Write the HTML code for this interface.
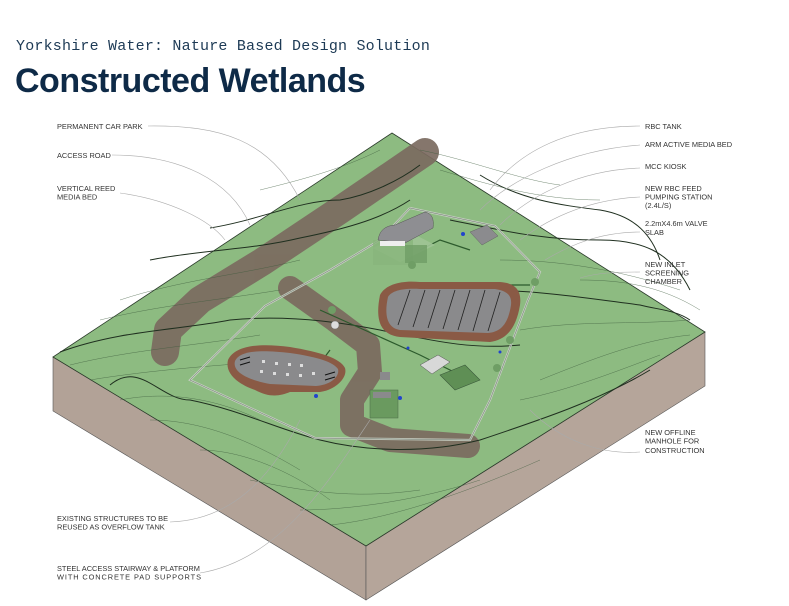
<!DOCTYPE html>
<html><head><meta charset="utf-8"><style>
html,body{margin:0;padding:0;background:#fff;}
body{width:789px;height:606px;overflow:hidden;position:relative;}
.t1{position:absolute;left:16px;top:38px;font:15px "Liberation Mono",monospace;color:#1d3a55;letter-spacing:0.2px;white-space:nowrap;}
.t2{position:absolute;left:15px;top:62px;font:bold 34px "Liberation Sans",sans-serif;color:#0e2a47;letter-spacing:-0.5px;white-space:nowrap;}
svg{position:absolute;left:0;top:0;}
svg text{font-family:"Liberation Sans",sans-serif;font-size:7.4px;fill:#333;}
</style></head><body>
<div class="t1">Yorkshire Water: Nature Based Design Solution</div>
<div class="t2">Constructed Wetlands</div>
<svg width="789" height="606" viewBox="0 0 789 606">
<polygon points="53,357 366,546 366,600 53,411" fill="#b2a297" stroke="#555" stroke-width="0.6"/>
<polygon points="366,546 705,332 705,386 366,600" fill="#b5a59a" stroke="#555" stroke-width="0.6"/>
<polygon points="392,133 705,332 366,546 53,357" fill="#8dbb81" stroke="#2a3a2a" stroke-width="0.8"/>
<!-- roads -->
<g fill="none" stroke="#7b6a5f" stroke-linecap="round" stroke-linejoin="round" opacity="0.92">
<path d="M425,152 L340,210 L262,262 L200,300 L168,330 L165,352" stroke-width="28"/>
<path d="M290,288 L335,320 L368,345 L370,372 L352,400 L352,425 L390,440 L468,446" stroke-width="24"/>
</g>
<g fill="none" stroke="#1f2f1f" stroke-width="1">
<path d="M60,352 C120,330 180,330 230,320 C280,315 330,320 380,330 C430,340 470,350 520,345"/>
<path d="M150,260 C200,250 250,250 300,238 C340,230 380,220 410,200"/>
<path d="M210,228 C260,220 300,200 340,200 C370,195 400,180 420,165"/>
<path d="M450,220 C500,230 540,240 600,240 C640,240 670,250 690,290"/>
<path d="M480,290 C540,290 600,300 640,305 C660,310 675,310 690,320"/>
<path d="M110,385 C140,360 160,400 190,400 C240,410 280,430 320,440 C360,450 420,455 480,440 C540,420 600,400 650,370"/>
<path d="M480,175 C520,200 560,205 600,210 C630,215 650,230 660,260"/>
</g>
<g fill="none" stroke="#3b5a3b" stroke-width="0.5" opacity="0.7">
<path d="M70,365 C130,350 200,345 260,335"/><path d="M90,380 C150,370 220,365 290,360"/>
<path d="M120,400 C170,390 220,400 260,420"/><path d="M150,420 C200,420 250,440 300,470"/>
<path d="M200,450 C240,450 290,470 330,500"/><path d="M250,480 C300,490 350,500 420,490"/>
<path d="M300,510 C350,510 420,500 480,480"/><path d="M330,525 C380,520 450,500 540,460"/>
<path d="M520,400 C570,390 620,370 660,355"/><path d="M540,380 C590,360 640,340 690,335"/>
<path d="M500,260 C560,260 620,270 680,290"/><path d="M420,150 C470,160 520,180 560,185"/>
<path d="M440,170 C490,185 540,200 600,200"/><path d="M120,300 C180,280 240,275 300,260"/>
<path d="M100,320 C160,305 220,300 280,290"/><path d="M260,190 C300,180 340,170 380,150"/>
<path d="M520,330 C580,320 630,325 690,320"/><path d="M580,280 C620,280 660,285 700,310"/>
</g>
<g fill="none" stroke="#c8cfc4" stroke-width="2.2" opacity="0.9">
<path d="M410,208 L495,226 L540,272 L528,300 L490,400 L470,440 L315,438 L190,380 L200,370 L265,306 L330,270 L380,240 L410,208"/>
</g>
<g fill="none" stroke="#707a70" stroke-width="0.5">
<path d="M410,208 L495,226 L540,272 L528,300 L490,400 L470,440 L315,438 L190,380 L200,370 L265,306 L330,270 L380,240 L410,208"/>
</g>
<g fill="none" stroke="#2c5a2c" stroke-width="1.2">
<path d="M320,310 L420,355 L470,380"/><path d="M380,300 L500,285 L530,285"/>
<path d="M420,250 L440,240 L470,250"/><path d="M330,350 L300,390"/>
</g>
<polygon points="373,248 400,262 435,245 408,231" fill="#9fc495" opacity="0.9"/>
<rect x="373" y="240" width="40" height="25" fill="#88b57c" opacity="0.8"/>
<path d="M378,240 Q380,226 395,225 L425,212 Q435,214 433,228 L405,243 Z" fill="#8e8e92" stroke="#555" stroke-width="0.5"/>
<rect x="380" y="241" width="25" height="5" fill="#eee"/>
<rect x="405" y="245" width="22" height="18" fill="#6f9e65" opacity="0.8"/>
<polygon points="470,232 487,225 498,236 482,245" fill="#8b8b8e" stroke="#555" stroke-width="0.4"/>
<path d="M380,295 C385,285 400,280 420,282 L500,282 C515,283 522,290 520,305 C516,330 505,340 490,342 L400,337 C380,335 375,320 380,295 Z" fill="#8a5a45"/>
<path d="M388,297 C392,290 405,288 420,289 L495,289 C508,291 512,296 511,305 C508,325 500,332 488,333 L400,330 C387,328 384,315 388,297 Z" fill="#8a8a8c"/>
<g stroke="#222" stroke-width="0.8"><line x1="410" y1="290" x2="398" y2="325"/><line x1="425" y1="290" x2="413" y2="327"/><line x1="440" y1="290" x2="428" y2="328"/><line x1="455" y1="290" x2="443" y2="329"/><line x1="470" y1="290" x2="458" y2="330"/><line x1="485" y1="290" x2="473" y2="331"/><line x1="500" y1="292" x2="488" y2="331"/></g>
<path d="M228,360 C235,345 260,343 290,347 C320,352 340,358 345,368 C348,378 335,390 320,392 L290,392 C280,396 270,398 255,390 C235,383 225,372 228,360 Z" fill="#8a5a45"/>
<path d="M235,361 C240,350 262,350 290,353 C318,357 333,362 338,369 C340,377 330,385 316,386 L270,384 C248,380 232,372 235,361 Z" fill="#8a8a8c"/>
<g fill="#ddd"><rect x="262" y="360" width="3" height="3"/><rect x="275" y="362" width="3" height="3"/><rect x="288" y="363" width="3" height="3"/><rect x="300" y="364" width="3" height="3"/><rect x="260" y="370" width="3" height="3"/><rect x="273" y="372" width="3" height="3"/><rect x="286" y="373" width="3" height="3"/><rect x="299" y="374" width="3" height="3"/><rect x="312" y="372" width="3" height="3"/></g>
<g stroke="#111" stroke-width="1"><line x1="240" y1="360" x2="250" y2="357"/><line x1="240" y1="365" x2="250" y2="362"/><line x1="325" y1="375" x2="335" y2="372"/><line x1="325" y1="380" x2="335" y2="377"/></g>
<rect x="370" y="390" width="28" height="28" fill="#6a9a5f" stroke="#4a6a48" stroke-width="0.5"/>
<rect x="373" y="392" width="18" height="6" fill="#8a8a8c"/>
<rect x="380" y="372" width="10" height="8" fill="#8a8a8c"/>
<polygon points="420,365 438,355 450,362 432,374" fill="#d8d8d8" stroke="#555" stroke-width="0.5"/>
<polygon points="440,375 465,365 480,380 455,390" fill="#5f8f55" stroke="#3b5a3b" stroke-width="0.6"/>
<circle cx="335" cy="325" r="4" fill="#ddd" stroke="#666" stroke-width="0.4"/>
<circle cx="332" cy="310" r="4" fill="#6f9e65"/>
<circle cx="412" cy="265" r="4" fill="#6f9e65"/>
<circle cx="535" cy="282" r="4" fill="#6f9e65"/>
<circle cx="510" cy="340" r="4" fill="#6f9e65"/>
<circle cx="497" cy="368" r="4" fill="#6f9e65"/>
<g fill="#2244cc"><circle cx="316" cy="396" r="2"/><circle cx="400" cy="398" r="2"/><circle cx="463" cy="234" r="2"/><circle cx="408" cy="348" r="1.5"/><circle cx="500" cy="352" r="1.5"/></g>
<g fill="none" stroke="#aaa" stroke-width="0.6">
<path d="M148,126 C220,125 270,140 300,200"/>
<path d="M112,155 C180,155 230,180 250,225"/>
<path d="M120,193 C170,200 210,220 225,240"/>
<path d="M640,126 C570,126 520,150 490,190"/>
<path d="M640,145 C570,150 510,180 480,210"/>
<path d="M640,168 C580,170 530,195 500,225"/>
<path d="M640,197 C580,200 540,225 520,240"/>
<path d="M640,232 C600,232 570,245 545,260"/>
<path d="M640,272 C620,272 600,272 580,278"/>
<path d="M640,452 C600,455 560,440 530,410"/>
<path d="M170,522 C230,520 270,480 300,420"/>
<path d="M200,573 C280,560 330,480 370,420"/>
</g>
<text x="57" y="129">PERMANENT CAR PARK</text>
<text x="57" y="158">ACCESS ROAD</text>
<text x="57" y="191">VERTICAL REED</text>
<text x="57" y="199.5">MEDIA BED</text>
<text x="645" y="129">RBC TANK</text>
<text x="645" y="147">ARM ACTIVE MEDIA BED</text>
<text x="645" y="169">MCC KIOSK</text>
<text x="645" y="191">NEW RBC FEED</text>
<text x="645" y="199.5">PUMPING STATION</text>
<text x="645" y="208">(2.4L/S)</text>
<text x="645" y="226">2.2mX4.6m VALVE</text>
<text x="645" y="235">SLAB</text>
<text x="645" y="267">NEW INLET</text>
<text x="645" y="275.5">SCREENING</text>
<text x="645" y="284">CHAMBER</text>
<text x="645" y="435">NEW OFFLINE</text>
<text x="645" y="443.5">MANHOLE FOR</text>
<text x="645" y="453">CONSTRUCTION</text>
<text x="57" y="521">EXISTING STRUCTURES TO BE</text>
<text x="57" y="529.5">REUSED AS OVERFLOW TANK</text>
<text x="57" y="571">STEEL ACCESS STAIRWAY &amp; PLATFORM</text>
<text x="57" y="579.5" textLength="144">WITH  CONCRETE  PAD  SUPPORTS</text>
</svg>
</body></html>
